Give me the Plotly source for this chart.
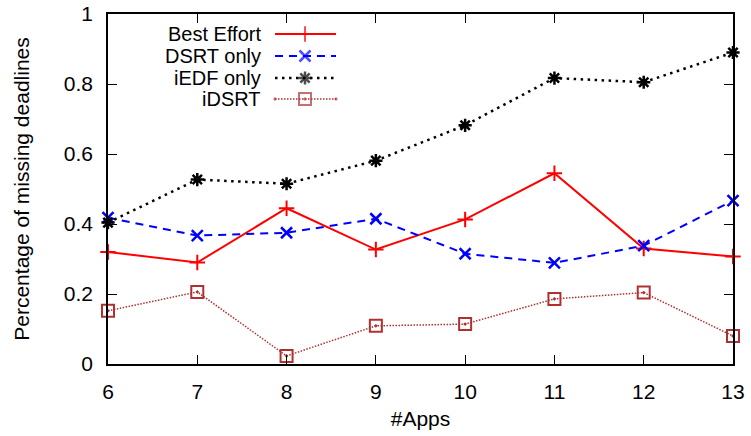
import plotly.graph_objects as go

# Number of concurrently running apps
apps = [6, 7, 8, 9, 10, 11, 12, 13]

# Fraction of missed deadlines per scheduling policy
best_effort = [0.320, 0.290, 0.445, 0.327, 0.413, 0.545, 0.330, 0.307]
dsrt_only = [0.418, 0.367, 0.375, 0.415, 0.315, 0.289, 0.338, 0.467]
iedf_only = [0.404, 0.527, 0.515, 0.581, 0.682, 0.817, 0.805, 0.890]
idsrt = [0.152, 0.206, 0.023, 0.109, 0.114, 0.186, 0.204, 0.080]

series_names = ["Best Effort", "DSRT only", "iEDF only", "iDSRT"]
series_values = [best_effort, dsrt_only, iedf_only, idsrt]

styles = [
    dict(color="#ff0000", dash="solid", width=2, symbol="cross-thin-open", msize=11, mline=2),
    dict(color="#0000ff", dash="8px,6px", width=2, symbol="x-thin-open", msize=11, mline=2.5),
    dict(color="#000000", dash="2.5px,4.5px", width=2.5, symbol="asterisk-open", msize=11, mline=2.5),
    dict(color="#b03030", dash="1.5px,1.5px", width=1.5, symbol="square-open-dot", msize=12, mline=2),
]

W, H = 751, 436
L, R, T, B = 108, 18, 14, 72
FONT = "Liberation Sans, Arial, sans-serif"
FS = 21

fig = go.Figure()

for name, vals, st in zip(series_names, series_values, styles):
    fig.add_trace(go.Scatter(
        x=apps, y=vals, name=name, mode="lines+markers",
        line=dict(color=st["color"], dash=st["dash"], width=st["width"]),
        marker=dict(symbol=st["symbol"], size=st["msize"], color=st["color"],
                    line=dict(color=st["color"], width=st["mline"])),
        showlegend=False, cliponaxis=False,
    ))

# Key drawn in pixel space on an overlay axis: label right-aligned, sample to its right
key_rows = [34, 56, 78, 99]
for name, st, yk in zip(series_names, styles, key_rows):
    fig.add_trace(go.Scatter(
        x=[275, 305, 336], y=[yk, yk, yk], mode="lines+markers",
        xaxis="x2", yaxis="y2", showlegend=False, hoverinfo="skip",
        line=dict(color=st["color"], dash=st["dash"], width=st["width"]),
        marker=dict(symbol=st["symbol"], size=[0, st["msize"], 0], color=st["color"],
                    line=dict(color=st["color"], width=st["mline"])),
    ))
    fig.add_annotation(x=263, y=yk, xref="x2", yref="y2", text=name,
                       showarrow=False, xanchor="right", yanchor="middle",
                       font=dict(family=FONT, size=20, color="#000"))

axis_common = dict(
    showgrid=False, zeroline=False, showline=True, linecolor="#000", linewidth=1.5,
    mirror="ticks", ticks="inside", ticklen=9, tickwidth=1.2, tickcolor="#000",
    tickfont=dict(family=FONT, size=FS, color="#000"), automargin=False,
)

fig.update_layout(
    width=W, height=H,
    margin=dict(l=L, r=R, t=T, b=B, pad=0, autoexpand=False),
    paper_bgcolor="white", plot_bgcolor="white",
    font=dict(family=FONT, color="#000"),
    xaxis=dict(range=[6, 13], tickvals=apps, ticktext=[str(a) for a in apps],
               ticklabelstandoff=8,
               title=dict(text="#Apps", font=dict(family=FONT, size=FS), standoff=9),
               **axis_common),
    yaxis=dict(range=[0, 1], tickvals=[0, 0.2, 0.4, 0.6, 0.8, 1],
               ticktext=["0", "0.2", "0.4", "0.6", "0.8", "1"],
               ticklabelstandoff=9,
               title=dict(text="Percentage of missing deadlines",
                          font=dict(family=FONT, size=FS), standoff=28),
               **axis_common),
    xaxis2=dict(overlaying="x", range=[L, W - R], visible=False, fixedrange=True),
    yaxis2=dict(overlaying="y", range=[H - B, T], visible=False, fixedrange=True),
)

fig.write_html("out.html")
